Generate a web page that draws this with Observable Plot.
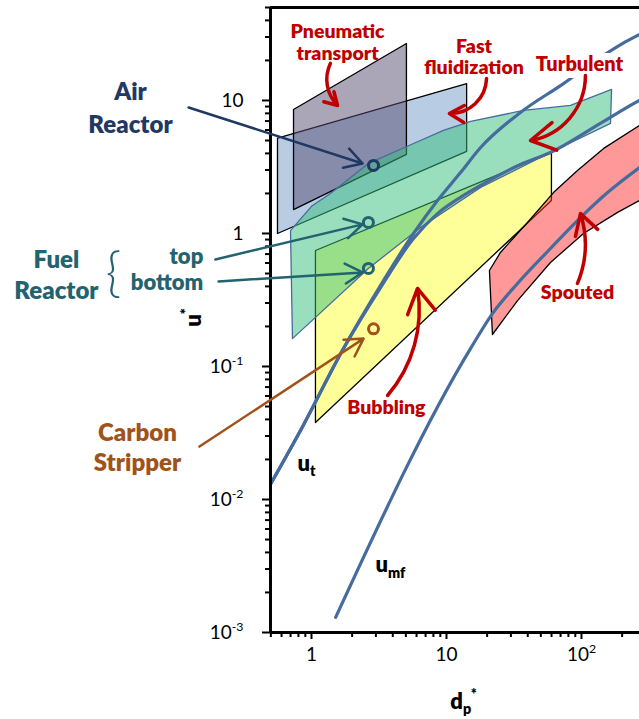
<!DOCTYPE html>
<html>
<head>
<meta charset="utf-8">
<script src="https://cdn.jsdelivr.net/npm/d3@7"></script>
<script src="https://cdn.jsdelivr.net/npm/@observablehq/plot@0.6"></script>
<style>
  html, body { margin: 0; padding: 0; background: #fff; overflow: hidden; }
</style>
</head>
<body>
<div id="chart"></div>
<script>
// ---------------- data (dp*, u*) ----------------
const xMajor = [1, 10, 100];
const xMajorLabels = ["1", "10", "10^{2}"];
const xMinor = [0.5, 0.6, 0.7, 0.8, 0.9, 2, 3, 4, 5, 6, 7, 8, 9, 20, 30, 40, 50, 60, 70, 80, 90, 200];
const yMajor = [0.001, 0.01, 0.1, 1, 10];
const yMajorLabels = ["10^{-3}", "10^{-2}", "10^{-1}", "1", "10"];
const yMinor = [0.002, 0.003, 0.004, 0.005, 0.006, 0.007, 0.008, 0.009,
                0.02, 0.03, 0.04, 0.05, 0.06, 0.07, 0.08, 0.09,
                0.2, 0.3, 0.4, 0.5, 0.6, 0.7, 0.8, 0.9,
                2, 3, 4, 5, 6, 7, 8, 9, 20, 30, 40, 50];

// regime regions (polygon vertices: dp*, u*)
const fastFluidization = [[0.56, 5.21], [14.1, 13.4], [14.1, 4.14], [0.56, 1.0]];
const pneumaticTransport = [[0.736, 8.56], [5.05, 26.8], [5.05, 3.93], [0.736, 1.51]];
const bubbling = [[1.07, 0.745], [59.9, 4.06], [59.9, 1.77], [1.07, 0.0379]];
const spouted = [[20.8, 0.527], [25.1, 0.72], [39.8, 1.21], [62, 2.03], [93.4, 2.98], [146, 4.36],
                 [269, 6.49], [385, 7.98], [385, 2.16], [269, 1.77], [185, 1.44], [103.5, 1.0],
                 [58.9, 0.605], [33.6, 0.313], [21.9, 0.174]];
const turbulent = [[0.699, 1.05], [1.0, 1.6], [1.38, 2.0], [2.64, 3.36], [5.7, 4.75], [9.5, 5.95],
                   [15.1, 6.95], [37.2, 8.41], [82.9, 9.17], [167, 12.1], [164, 6.72], [58.9, 4.06],
                   [17.9, 2.22], [6.42, 1.11], [2.64, 0.546], [0.723, 0.162]];

// characteristic velocity curves
const utSteep = [[0.497, 0.013], [0.829, 0.033], [1.73, 0.137], [3.24, 0.406], [5.7, 1.0], [8.58, 1.77],
                 [12.7, 2.87], [17.9, 4.43], [35.3, 8.12], [73.6, 13.4], [138, 21.1], [201, 26.8],
                 [269, 31.4], [385, 37.9]];
const utFlat = [[0.497, 0.013], [0.829, 0.033], [1.73, 0.137], [3.24, 0.39], [5.7, 0.917], [8.58, 1.41],
                [12.7, 1.87], [17.9, 2.3], [35.3, 3.3], [58.9, 4.06], [138, 6.72], [269, 10], [385, 11.9]];
const umf = [[1.51, 0.0013], [15.1, 0.137], [21.9, 0.25], [33.6, 0.421], [58.9, 0.771], [93.4, 1.25],
             [156, 2.03], [269, 3.13], [385, 4.06]];

// operating points
const pointNames = ["Air Reactor", "Fuel Reactor top", "Fuel Reactor bottom", "Carbon Stripper"];
const pointX = [2.88, 2.64, 2.64, 2.88];
const pointY = [3.25, 1.21, 0.546, 0.192];

// regime labels and their arrows
const regimeLabels = ["Pneumatic\ntransport", "Fast\nfluidization", "Turbulent", "Spouted", "Bubbling"];
const regimeLabelX = [1.56, 16.0, 96.7, 93.4, 3.59];
const regimeLabelY = [20.3, 15.7, 16.8, 0.324, 0.0443];
const regimeArrowX1 = [1.38, 19.8, 107, 93.4, 3.66];
const regimeArrowY1 = [19.0, 14.6, 15.4, 0.421, 0.0605];
const regimeArrowX2 = [1.56, 10.5, 41.9, 98.3, 6.10];
const regimeArrowY2 = [9.17, 7.98, 5.00, 1.41, 0.386];

// reactor labels and arrows
const reactorLabelX = [0.0456, 0.0129, 0.0514];
const reactorLabelY = [5.65, 0.319, 0.0165];
const fuelPartLabel = ["top\nbottom"];
const fuelPartX = [0.158];
const fuelPartY = [0.379];
const bracketX = [0.0341];
const bracketY = [0.5];
const reactorArrowX1 = [0.123, 0.194, 0.205, 0.148];
const reactorArrowY1 = [8.86, 0.638, 0.436, 0.025];
const reactorArrowX2 = [2.39, 2.39, 2.39, 2.43];
const reactorArrowY2 = [3.36, 1.17, 0.509, 0.162];

// curve labels and axis titles
const curveLabels = ["u_{t}", "u_{mf}"];
const curveLabelX = [0.788, 2.98];
const curveLabelY = [0.0165, 0.00283];
const axisTitleX = [13.4, 0.000268];
const axisTitleY = [0.151, 0.234];

// ---------------- styles ----------------
const FONT = "Lato, 'Open Sans', 'DejaVu Sans', sans-serif";
const RED = "#c00000", NAVY = "#1f3864", TEAL = "#23636f", BROWN = "#a0521a", CURVE = "#466c9e";
const HEAVY = 800;
const pointColors = [NAVY, TEAL, TEAL, BROWN];
const regimeBends = [-35, 45, 40, -20, -25];

const pts = (a) => a.map(([x, y]) => ({x, y}));
const poly = (a, o) => Plot.line(pts(a), {x: "x", y: "y", curve: "linear-closed", ...o});
const crv = (a) => Plot.line(pts(a), {x: "x", y: "y", curve: "monotone-x", stroke: CURVE, strokeWidth: 3.2, clip: true});
const idx = (a) => a.map((_, i) => i);

const chart = Plot.plot({
  width: 639,
  height: 719,
  marginLeft: 270,
  marginRight: 0,
  marginTop: 7,
  marginBottom: 87,
  style: {fontFamily: FONT, background: "white", color: "black"},
  x: {type: "log", domain: [0.497, 269]},
  y: {type: "log", domain: [0.001, 50]},
  color: {type: "identity"},
  marks: [
    // regions
    poly(fastFluidization, {fill: "#b8cce4", stroke: "black", strokeWidth: 1.3}),
    poly(pneumaticTransport, {fill: "#574b71", fillOpacity: 0.5, stroke: "black", strokeWidth: 1.3}),
    poly(bubbling, {fill: "#ffff99", stroke: "black", strokeWidth: 1.3}),
    poly(spouted, {fill: "#ff3333", fillOpacity: 0.5, stroke: "black", strokeWidth: 1.3, clip: true}),
    poly(turbulent, {fill: "#33bf7b", fillOpacity: 0.5, stroke: CURVE, strokeWidth: 1.3}),
    // curves
    crv(utSteep),
    crv(utFlat),
    crv(umf),
    // axes
    Plot.axisY({ticks: yMinor, tickSize: 5, tickFormat: () => "", strokeWidth: 2, label: null}),
    Plot.axisY({ticks: yMajor, tickSize: 8, tickFormat: () => "", strokeWidth: 2, label: null}),
    Plot.axisX({ticks: xMinor, tickSize: 5, tickFormat: () => "", strokeWidth: 2, label: null}),
    Plot.axisX({ticks: xMajor, tickSize: 7, tickFormat: () => "", strokeWidth: 2, label: null}),
    Plot.ruleX([0.497], {strokeWidth: 3}),
    Plot.ruleY([0.001], {strokeWidth: 3}),
    Plot.ruleY([50], {strokeWidth: 3}),
    Plot.text(yMajor, {y: (d) => d, text: (d, i) => yMajorLabels[i], frameAnchor: "left", dx: -27,
      textAnchor: "end", fontSize: 19, ariaLabel: "ytick-label"}),
    Plot.text(xMajor, {x: (d) => d, text: (d, i) => xMajorLabels[i], frameAnchor: "bottom", dy: 15,
      lineAnchor: "top", fontSize: 19, ariaLabel: "xtick-label"}),
    // axis titles
    Plot.text(["d_{p}^{*}"], {x: axisTitleX[0], y: axisTitleX[1], lineAnchor: "bottom", fontSize: 22, fontWeight: HEAVY}),
    Plot.text(["u^{*}"], {x: axisTitleY[0], y: axisTitleY[1], rotate: -90, lineAnchor: "bottom", fontSize: 22, fontWeight: HEAVY}),
    // curve labels
    Plot.text(idx(curveLabels), {x: (i) => curveLabelX[i], y: (i) => curveLabelY[i], text: (i) => curveLabels[i],
      textAnchor: "start", lineAnchor: "bottom", fontSize: 22, fontWeight: HEAVY}),
    // regime labels
    Plot.text(idx(regimeLabels).filter((i) => i !== 2), {x: (i) => regimeLabelX[i], y: (i) => regimeLabelY[i],
      text: (i) => regimeLabels[i], lineAnchor: "bottom", lineHeight: 1.1, fontSize: 19.5, fontWeight: HEAVY, fill: RED}),
    Plot.text([2], {x: (i) => regimeLabelX[i], y: (i) => regimeLabelY[i], text: (i) => regimeLabels[i],
      lineAnchor: "bottom", fontSize: 20, fontWeight: HEAVY, fill: RED, stroke: "white", strokeWidth: 14}),
    ...idx(regimeLabels).map((i) => Plot.arrow([i], {
      x1: (j) => regimeArrowX1[j], y1: (j) => regimeArrowY1[j], x2: (j) => regimeArrowX2[j], y2: (j) => regimeArrowY2[j],
      bend: regimeBends[i], stroke: RED, strokeWidth: 3.5, headLength: 12})),
    // reactor labels
    Plot.text(["Air\nReactor"], {x: reactorLabelX[0], y: reactorLabelY[0], lineAnchor: "bottom", lineHeight: 1.4,
      fontSize: 24, fontWeight: HEAVY, fill: NAVY}),
    Plot.text(["Fuel\nReactor"], {x: reactorLabelX[1], y: reactorLabelY[1], lineAnchor: "bottom", lineHeight: 1.33,
      fontSize: 24, fontWeight: HEAVY, fill: TEAL}),
    Plot.text(fuelPartLabel, {x: fuelPartX[0], y: fuelPartY[0], textAnchor: "end", lineAnchor: "bottom", lineHeight: 1.15,
      fontSize: 22, fontWeight: HEAVY, fill: TEAL}),
    Plot.text(["{"], {x: bracketX[0], y: bracketY[0], fontSize: 54, fontWeight: 300, fill: TEAL}),
    Plot.text(["Carbon\nStripper"], {x: reactorLabelX[2], y: reactorLabelY[2], lineAnchor: "bottom", lineHeight: 1.25,
      fontSize: 24, fontWeight: HEAVY, fill: BROWN}),
    Plot.arrow(idx(reactorArrowX1), {x1: (i) => reactorArrowX1[i], y1: (i) => reactorArrowY1[i],
      x2: (i) => reactorArrowX2[i], y2: (i) => reactorArrowY2[i], stroke: (i) => pointColors[i],
      strokeWidth: 2.5, headLength: 12}),
    // operating points
    Plot.dot(idx(pointNames), {x: (i) => pointX[i], y: (i) => pointY[i], r: 5, stroke: (i) => pointColors[i],
      strokeWidth: 3, fill: "none", title: (i) => pointNames[i]})
  ]
});

document.getElementById("chart").append(chart);

// rich text: x_{sub} and x^{sup}
const NS = "http://www.w3.org/2000/svg";
function richify(svg) {
  svg.querySelectorAll("text").forEach((t) => {
    if (t.querySelector("tspan")) return;
    const s = t.textContent;
    if (!/[_^]\{/.test(s)) return;
    const fs = parseFloat(getComputedStyle(t).fontSize) || 16;
    t.textContent = "";
    const re = /([_^])\{([^}]*)\}|([^_^]+)/g;
    let m, cur = 0;
    while ((m = re.exec(s))) {
      const ts = document.createElementNS(NS, "tspan");
      let target;
      if (m[3] !== undefined) { ts.textContent = m[3]; target = 0; }
      else {
        ts.textContent = m[2];
        ts.setAttribute("font-size", (0.65 * fs).toFixed(1));
        ts.setAttribute("class", "rich-script");
        target = m[1] === "^" ? -0.42 * fs : 0.25 * fs;
      }
      if (target !== cur) ts.setAttribute("dy", (target - cur).toFixed(1));
      cur = target;
      t.appendChild(ts);
    }
  });
}
function shiftScripts(svg, label, factor) {
  svg.querySelectorAll(`g[aria-label="${label}"] text`).forEach((t) => {
    const sc = t.querySelector("tspan.rich-script");
    if (!sc) return;
    const w = sc.getComputedTextLength();
    const tr = t.getAttribute("transform") || "";
    t.setAttribute("transform", `translate(${(w * factor).toFixed(1)},0) ${tr}`);
  });
}
richify(chart);
shiftScripts(chart, "ytick-label", 1);
shiftScripts(chart, "xtick-label", -0.5);
</script>
</body>
</html>
